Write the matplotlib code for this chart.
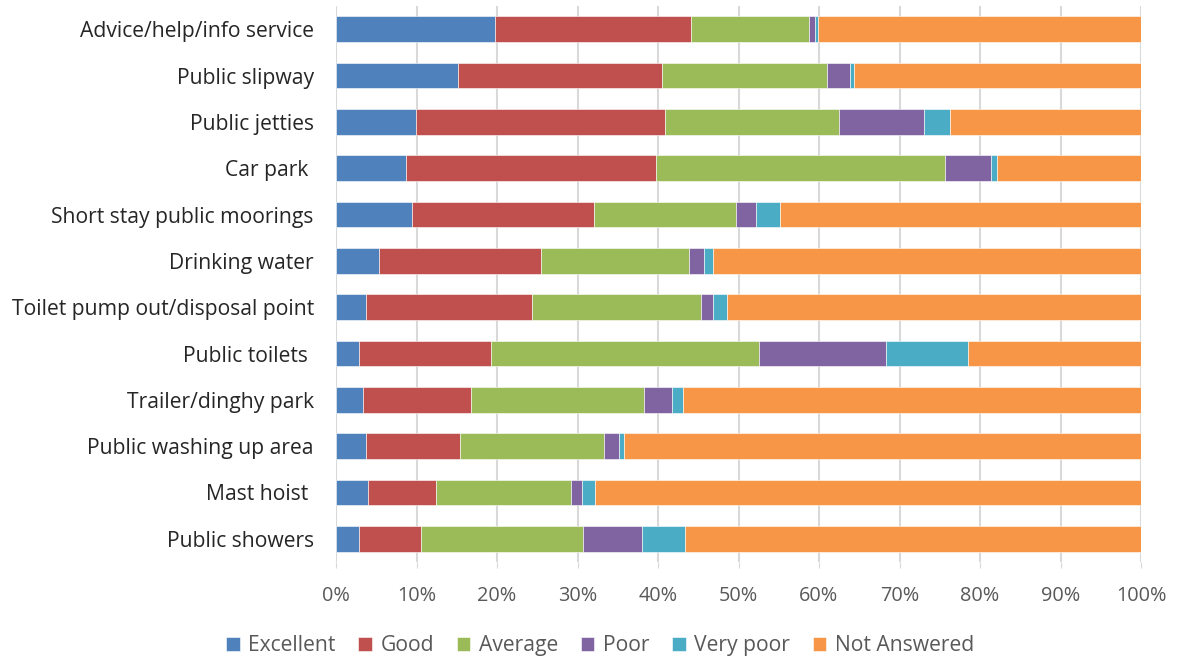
import matplotlib
matplotlib.use('Agg')
import matplotlib.pyplot as plt
import numpy as np
from matplotlib.ticker import PercentFormatter

plt.rcParams['font.family'] = ['Open Sans', 'DejaVu Sans']

# facilities, top to bottom
facilities = [
    'Advice/help/info service', 'Public slipway', 'Public jetties', 'Car park ',
    'Short stay public moorings', 'Drinking water', 'Toilet pump out/disposal point',
    'Public toilets ', 'Trailer/dinghy park', 'Public washing up area',
    'Mast hoist ', 'Public showers',
]

# percentage of respondents per rating
excellent = [19.7, 15.2, 9.9, 8.7, 9.5, 5.4, 3.7, 2.9, 3.3, 3.7, 4.0, 2.9]
good = [24.4, 25.3, 31.0, 31.1, 22.6, 20.1, 20.7, 16.4, 13.5, 11.7, 8.4, 7.7]
average = [14.7, 20.5, 21.6, 35.9, 17.6, 18.4, 20.9, 33.3, 21.5, 17.9, 16.8, 20.1]
poor = [0.7, 2.9, 10.5, 5.7, 2.5, 1.8, 1.5, 15.7, 3.4, 1.8, 1.4, 7.3]
very_poor = [0.4, 0.4, 3.3, 0.7, 3.0, 1.1, 1.8, 10.2, 1.4, 0.7, 1.6, 5.4]
not_answered = [40.1, 35.7, 23.7, 17.9, 44.8, 53.2, 51.4, 21.5, 56.9, 64.2, 67.8, 56.6]

series = [
    ('Excellent', excellent, '#4F81BD'),
    ('Good', good, '#C0504D'),
    ('Average', average, '#9BBB59'),
    ('Poor', poor, '#8064A2'),
    ('Very poor', very_poor, '#4BACC6'),
    ('Not Answered', not_answered, '#F79646'),
]

fig = plt.figure(figsize=(11.79, 6.63), dpi=100)
ax = fig.add_axes([336 / 1179, 1 - 562 / 663, 805 / 1179, 556 / 663])

y = np.arange(len(facilities))
left = np.zeros(len(facilities))
for name, vals, col in series:
    vals = np.array(vals)
    ax.barh(y, vals, left=left, height=0.56, color=col, label=name,
            edgecolor='white', linewidth=0.4, zorder=3)
    left += vals

ax.set_xlim(0, 100)
ax.set_ylim(len(facilities) - 0.5, -0.5)
ax.set_yticks(y)
ax.set_yticklabels(facilities, fontsize=15.2, color='#262626')
ax.set_xticks(np.arange(0, 101, 10))
ax.xaxis.set_major_formatter(PercentFormatter(decimals=0))
ax.tick_params(axis='x', labelsize=14.3, labelcolor='#595959', length=4,
               color='#D9D9D9', pad=13)
ax.tick_params(axis='y', length=0, pad=16)
ax.grid(axis='x', color='#D9D9D9', linewidth=1.5, zorder=0)
for s in ax.spines.values():
    s.set_visible(False)

handles, labels = ax.get_legend_handles_labels()
fig.legend(handles, labels, loc='center', bbox_to_anchor=(0.509, 0.026),
           ncol=6, frameon=False, fontsize=15.2, handlelength=0.65,
           handleheight=0.65, handletextpad=0.4, columnspacing=1.07,
           labelcolor='#595959')

fig.savefig('out.png', dpi=100)
